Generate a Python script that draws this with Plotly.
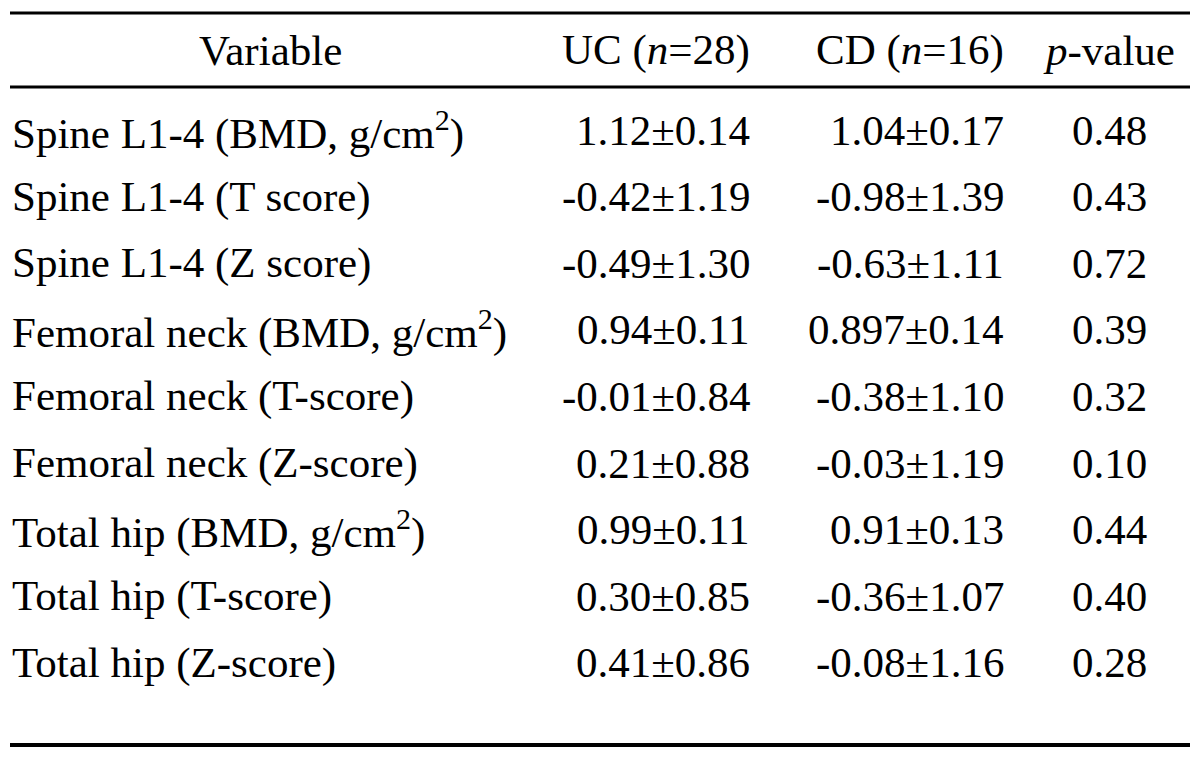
import plotly.graph_objects as go

headers = ["Variable", "UC (<i>n</i>=28)", "CD (<i>n</i>=16)", "<i>p</i>-value"]
variables = [
    "Spine L1-4 (BMD, g/cm<sup>2</sup>)",
    "Spine L1-4 (T score)",
    "Spine L1-4 (Z score)",
    "Femoral neck (BMD, g/cm<sup>2</sup>)",
    "Femoral neck (T-score)",
    "Femoral neck (Z-score)",
    "Total hip (BMD, g/cm<sup>2</sup>)",
    "Total hip (T-score)",
    "Total hip (Z-score)",
]
uc_values = ["1.12±0.14", "-0.42±1.19", "-0.49±1.30", "0.94±0.11", "-0.01±0.84",
             "0.21±0.88", "0.99±0.11", "0.30±0.85", "0.41±0.86"]
cd_values = ["1.04±0.17", "-0.98±1.39", "-0.63±1.11", "0.897±0.14", "-0.38±1.10",
             "-0.03±1.19", "0.91±0.13", "-0.36±1.07", "-0.08±1.16"]
p_values = ["0.48", "0.43", "0.72", "0.39", "0.32", "0.10", "0.44", "0.40", "0.28"]

W, H = 1200, 760
OFF = 8  # page body margin
FONT = "Liberation Serif, Times New Roman, serif"
FS = 43

fig = go.Figure()
fig.update_layout(
    width=W, height=H, margin=dict(l=0, r=0, t=0, b=0),
    paper_bgcolor="white", plot_bgcolor="white", showlegend=False,
    xaxis=dict(range=[OFF, W + OFF], visible=False, fixedrange=True),
    yaxis=dict(range=[H + OFF, OFF], visible=False, fixedrange=True),
)

# rules
fig.add_shape(type="line", x0=10, x1=1190, y0=13, y1=13, line=dict(color="black", width=3))
fig.add_shape(type="line", x0=10, x1=1190, y0=87, y1=87, line=dict(color="black", width=3))
fig.add_shape(type="line", x0=10, x1=1190, y0=745, y1=745, line=dict(color="black", width=4))

def txt(x, y, s, anchor):
    fig.add_annotation(x=x, y=y, xref="x", yref="y", text=s, showarrow=False,
                       xanchor=anchor, yanchor="middle",
                       font=dict(family=FONT, size=FS, color="black"))

header_y = 50
txt(270, header_y, headers[0], "center")
txt(752, header_y, headers[1], "right")
txt(1006, header_y, headers[2], "right")
txt(1109, header_y, headers[3], "center")

row0, step = 130, 66.6
for i, v in enumerate(variables):
    y = row0 + i * step
    txt(10, y, v, "left")
    txt(752, y, uc_values[i], "right")
    txt(1006, y, cd_values[i], "right")
    txt(1109, y, p_values[i], "center")

fig.write_html("out.html")
